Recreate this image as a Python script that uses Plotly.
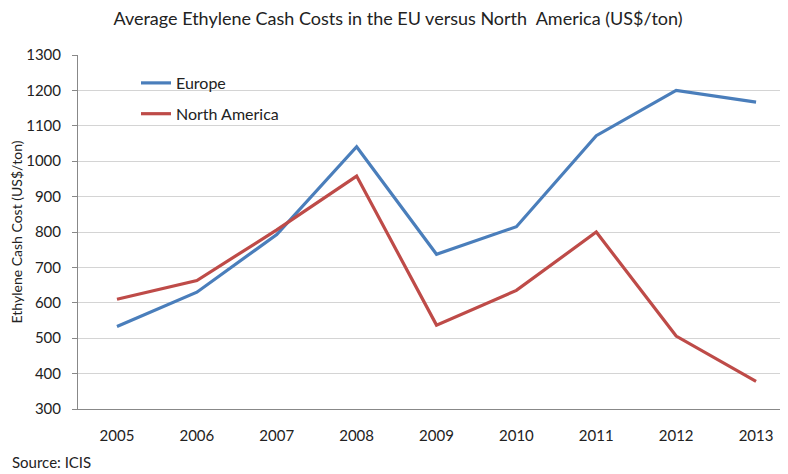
import plotly.graph_objects as go

years = ["2005", "2006", "2007", "2008", "2009", "2010", "2011", "2012", "2013"]
europe = [533, 630, 793, 1041, 737, 815, 1072, 1200, 1167]
north_america = [610, 663, 806, 958, 537, 635, 800, 506, 378]

FONT = "Lato"
TXT = "#222222"

# The page has an 8px body margin, so the figure is sized to fill the rest.
W, H = 780, 466
L, T, B = 70, 47, 65
PW, PH = W - L, H - T - B

fig = go.Figure()
fig.add_trace(go.Scatter(x=list(range(len(years))), y=europe, mode="lines", name="Europe",
                         legendgroup="eu",
                         line=dict(color="#4A7EBB", width=3.2)))
fig.add_trace(go.Scatter(x=list(range(len(years))), y=north_america, mode="lines", name="North America",
                         legendgroup="na",
                         line=dict(color="#BE4B48", width=3.2)))

fig.update_layout(
    width=W, height=H,
    margin=dict(l=L, r=0, t=T, b=B),
    paper_bgcolor="white", plot_bgcolor="white",
    font=dict(family=FONT, color=TXT),
    title=dict(text="Average Ethylene Cash Costs in the EU versus North  America (US$/ton)",
               x=0.5, xref="container", xanchor="center", y=1 - 10.5 / H, yanchor="middle",
               font=dict(size=18, family=FONT, color=TXT)),
    showlegend=True,
    legend=dict(x=(128 - L) / PW, y=1 - (58 - T) / PH, xanchor="left", yanchor="top",
                bgcolor="rgba(0,0,0,0)", font=dict(size=16, family=FONT, color=TXT),
                tracegroupgap=7, itemwidth=30),
    xaxis=dict(range=[-0.488, 8.40], tickmode="array", tickvals=list(range(len(years))),
               ticktext=years, showgrid=False, zeroline=False, showline=True,
               linecolor="#888888", linewidth=1, ticks="", ticklabelstandoff=13,
               tickfont=dict(size=15, family=FONT, color=TXT)),
    yaxis=dict(range=[300, 1300], dtick=100, tick0=300, showgrid=True, gridcolor="#D4D4D4",
               gridwidth=1, zeroline=False, showline=True, linecolor="#888888", linewidth=1,
               ticks="outside", ticklen=5, tickcolor="#888888", ticklabelstandoff=8,
               tickfont=dict(size=15, family=FONT, color=TXT),
               title=dict(text="Ethylene Cash Cost (US$/ton)", standoff=3,
                          font=dict(size=14, family=FONT, color=TXT))),
    annotations=[dict(text="Source: ICIS", xref="paper", yref="paper",
                      x=(2 - L) / PW, y=-(454 - (T + PH)) / PH, xanchor="left", yanchor="middle",
                      showarrow=False, font=dict(size=15, family=FONT, color=TXT))],
)

fig.write_html("out.html")
